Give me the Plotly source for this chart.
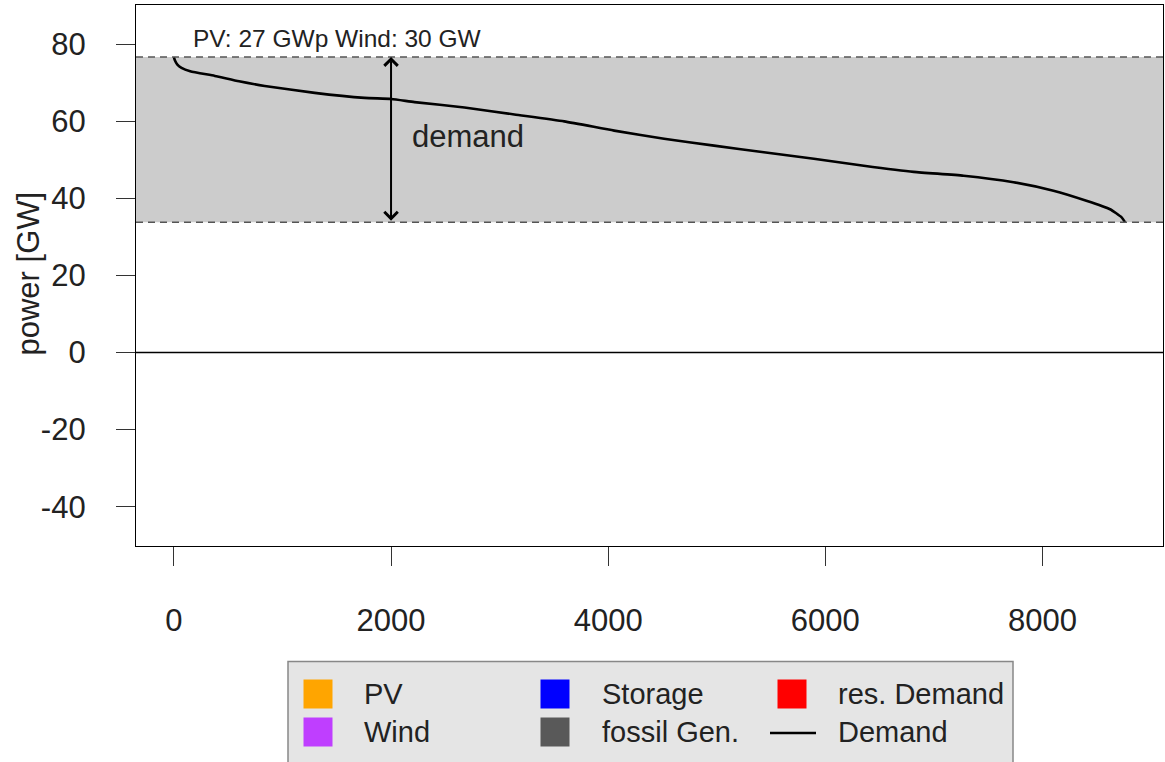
import plotly.graph_objects as go

# ---- data ----
hours = [0, 10, 30, 70, 150, 377, 600, 837, 1297, 1756, 2002, 2216, 2676, 3136,
         3595, 4055, 4515, 4975, 5434, 5894, 6354, 6814, 7274, 7733, 8101,
         8404, 8622, 8729, 8760]
demand = [76.7, 75.8, 74.8, 73.9, 73.0, 71.8, 70.4, 69.2, 67.4, 66.1, 65.8, 65.0,
          63.6, 61.8, 60.0, 57.6, 55.5, 53.7, 52.0, 50.3, 48.5, 46.9, 45.9, 44.2,
          42.0, 39.4, 37.2, 35.1, 33.85]
x_ticks = [0, 2000, 4000, 6000, 8000]
x_tick_labels = ["0", "2000", "4000", "6000", "8000"]
y_ticks = [-40, -20, 0, 20, 40, 60, 80]
y_tick_labels = ["-40", "-20", "0", "20", "40", "60", "80"]
legend_names = ["PV", "Wind", "Storage", "fossil Gen.", "res. Demand", "Demand"]
legend_colors = ["#FFA500", "#BF3EFF", "#0000FF", "#595959", "#FF0000", "#000000"]
title_text = "PV: 27 GWp Wind: 30 GW"
y_label = "power [GW]"
arrow_label = "demand"
arrow_hour = 2000

FONT = "Liberation Sans, Arial, Helvetica, sans-serif"
W, H = 1165, 762
L, R, T, B = 136, 2, 5, 216
PW, PH = W - L - R, H - T - B


def px(xp):
    return (xp - L) / PW


def py(yp):
    return (H - B - yp) / PH


dmax, dmin = max(demand), min(demand)

fig = go.Figure()
fig.add_trace(go.Scatter(x=hours, y=demand, mode="lines",
                         line=dict(color="black", width=2.6, shape="spline", smoothing=0.5),
                         showlegend=False, hoverinfo="skip"))

shapes = []
# shaded demand band
shapes.append(dict(type="rect", xref="paper", yref="y", x0=0, x1=1, y0=dmin, y1=dmax,
                   fillcolor="#CCCCCC", line=dict(width=0), layer="below"))
for v in (dmin, dmax):
    shapes.append(dict(type="line", xref="paper", yref="y", x0=0, x1=1, y0=v, y1=v,
                       line=dict(color="#555555", width=1.5, dash="7px,5px")))
# zero line
shapes.append(dict(type="line", xref="paper", yref="y", x0=0, x1=1, y0=0, y1=0,
                   line=dict(color="black", width=1.5)))

annotations = []
annotations.append(dict(x=arrow_hour, y=dmax, ax=arrow_hour, ay=dmin, xref="x", yref="y",
                        axref="x", ayref="y", text="", showarrow=True,
                        arrowhead=4, startarrowhead=4, arrowside="end+start",
                        arrowwidth=2, arrowsize=1.3, startarrowsize=1.3,
                        arrowcolor="black", standoff=0, startstandoff=0))
annotations.append(dict(x=2170, y=56.0, xref="x", yref="y", text=arrow_label,
                        showarrow=False, xanchor="left", yanchor="middle",
                        font=dict(family=FONT, size=31, color="#222222")))
annotations.append(dict(x=160, y=81.4, xref="x", yref="y", text=title_text,
                        showarrow=False, xanchor="left", yanchor="middle",
                        font=dict(family=FONT, size=24.5, color="#222222")))
annotations.append(dict(x=px(28), y=py(273.5), xref="paper", yref="paper", text=y_label,
                        textangle=-90, showarrow=False, xanchor="center", yanchor="middle",
                        font=dict(family=FONT, size=31, color="#222222")))

# ---- legend box (drawn manually, R style) ----
shapes.append(dict(type="rect", xref="paper", yref="paper", x0=px(288), x1=px(1013),
                   y0=py(790), y1=py(661.5), fillcolor="#E5E5E5",
                   line=dict(color="#888888", width=1.5)))
cols_x = [318, 555, 792]
rows_y = [694, 732]
text_x = [362, 600, 836]
for i, (name, col) in enumerate(zip(legend_names, legend_colors)):
    c, r = i // 2, i % 2
    cx, cy = cols_x[c], rows_y[r]
    if name == "Demand":
        shapes.append(dict(type="line", xref="paper", yref="paper",
                           x0=px(770), x1=px(816), y0=py(cy + 1), y1=py(cy + 1),
                           line=dict(color=col, width=2.6)))
    else:
        shapes.append(dict(type="rect", xref="paper", yref="paper",
                           x0=px(cx - 14.5), x1=px(cx + 14.5),
                           y0=py(cy + 14.5), y1=py(cy - 14.5),
                           fillcolor=col, line=dict(width=0)))
    annotations.append(dict(x=px(text_x[c]), y=py(cy), xref="paper", yref="paper",
                            text=name, showarrow=False, xanchor="left", yanchor="middle",
                            font=dict(family=FONT, size=29, color="#222222")))

axis_common = dict(showgrid=False, zeroline=False, showline=True, mirror=True,
                   linecolor="black", linewidth=1.3, ticks="outside", ticklen=19,
                   tickwidth=1.2, tickcolor="#333333",
                   tickfont=dict(family=FONT, size=31, color="#222222"))

fig.update_layout(
    width=W, height=H,
    margin=dict(l=L, r=R, t=T, b=B, autoexpand=False),
    plot_bgcolor="white", paper_bgcolor="white",
    showlegend=False,
    xaxis=dict(range=[-349, 9110], tickmode="array", tickvals=x_ticks,
               ticktext=x_tick_labels, ticklabelstandoff=28, **axis_common),
    yaxis=dict(range=[-50.2, 90.2], tickmode="array", tickvals=y_ticks,
               ticktext=y_tick_labels, ticklabelstandoff=24, **axis_common),
    shapes=shapes, annotations=annotations,
)

fig.write_html("out.html")
